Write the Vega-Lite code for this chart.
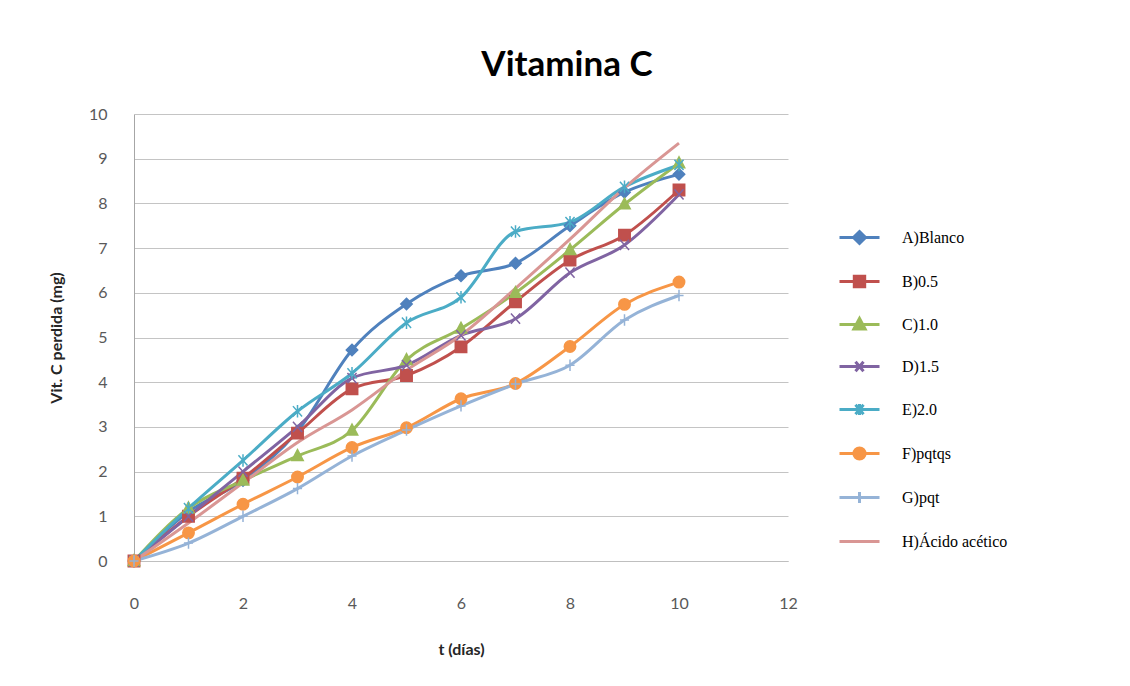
{
  "$schema": "https://vega.github.io/schema/vega-lite/v6.json",
  "width": 654,
  "height": 447,
  "autosize": "none",
  "padding": {"left": 134, "top": 114, "right": 342, "bottom": 125},
  "background": "white",
  "title": {
    "text": "Vitamina C",
    "font": "Lato",
    "fontSize": 35,
    "fontWeight": "bold",
    "color": "#000000",
    "anchor": "middle",
    "frame": "group",
    "dx": 106,
    "offset": 23
  },
  "config": {
    "view": {"stroke": null},
    "axis": {
      "labelFont": "Lato",
      "labelFontSize": 16,
      "labelColor": "#595959",
      "titleFont": "Lato",
      "titleFontSize": 16,
      "titleFontWeight": "bold",
      "titleColor": "#262626",
      "ticks": false,
      "labelFlush": false
    }
  },
  "data": {
    "values": [
      {"t": 0, "v": 0, "s": "A)Blanco"}, {"t": 1, "v": 1.1, "s": "A)Blanco"}, {"t": 2, "v": 1.8, "s": "A)Blanco"}, {"t": 3, "v": 2.9, "s": "A)Blanco"}, {"t": 4, "v": 4.72, "s": "A)Blanco"}, {"t": 5, "v": 5.75, "s": "A)Blanco"}, {"t": 6, "v": 6.38, "s": "A)Blanco"}, {"t": 7, "v": 6.66, "s": "A)Blanco"}, {"t": 8, "v": 7.5, "s": "A)Blanco"}, {"t": 9, "v": 8.25, "s": "A)Blanco"}, {"t": 10, "v": 8.65, "s": "A)Blanco"},
      {"t": 0, "v": 0, "s": "B)0.5"}, {"t": 1, "v": 1.0, "s": "B)0.5"}, {"t": 2, "v": 1.85, "s": "B)0.5"}, {"t": 3, "v": 2.86, "s": "B)0.5"}, {"t": 4, "v": 3.85, "s": "B)0.5"}, {"t": 5, "v": 4.15, "s": "B)0.5"}, {"t": 6, "v": 4.79, "s": "B)0.5"}, {"t": 7, "v": 5.8, "s": "B)0.5"}, {"t": 8, "v": 6.73, "s": "B)0.5"}, {"t": 9, "v": 7.29, "s": "B)0.5"}, {"t": 10, "v": 8.3, "s": "B)0.5"},
      {"t": 0, "v": 0, "s": "C)1.0"}, {"t": 1, "v": 1.18, "s": "C)1.0"}, {"t": 2, "v": 1.8, "s": "C)1.0"}, {"t": 3, "v": 2.35, "s": "C)1.0"}, {"t": 4, "v": 2.92, "s": "C)1.0"}, {"t": 5, "v": 4.5, "s": "C)1.0"}, {"t": 6, "v": 5.2, "s": "C)1.0"}, {"t": 7, "v": 6.0, "s": "C)1.0"}, {"t": 8, "v": 6.96, "s": "C)1.0"}, {"t": 9, "v": 7.98, "s": "C)1.0"}, {"t": 10, "v": 8.9, "s": "C)1.0"},
      {"t": 0, "v": 0, "s": "D)1.5"}, {"t": 1, "v": 1.0, "s": "D)1.5"}, {"t": 2, "v": 2.0, "s": "D)1.5"}, {"t": 3, "v": 3.0, "s": "D)1.5"}, {"t": 4, "v": 4.09, "s": "D)1.5"}, {"t": 5, "v": 4.38, "s": "D)1.5"}, {"t": 6, "v": 5.05, "s": "D)1.5"}, {"t": 7, "v": 5.42, "s": "D)1.5"}, {"t": 8, "v": 6.45, "s": "D)1.5"}, {"t": 9, "v": 7.07, "s": "D)1.5"}, {"t": 10, "v": 8.2, "s": "D)1.5"},
      {"t": 0, "v": 0, "s": "E)2.0"}, {"t": 1, "v": 1.18, "s": "E)2.0"}, {"t": 2, "v": 2.25, "s": "E)2.0"}, {"t": 3, "v": 3.35, "s": "E)2.0"}, {"t": 4, "v": 4.2, "s": "E)2.0"}, {"t": 5, "v": 5.33, "s": "E)2.0"}, {"t": 6, "v": 5.9, "s": "E)2.0"}, {"t": 7, "v": 7.37, "s": "E)2.0"}, {"t": 8, "v": 7.58, "s": "E)2.0"}, {"t": 9, "v": 8.37, "s": "E)2.0"}, {"t": 10, "v": 8.86, "s": "E)2.0"},
      {"t": 0, "v": 0, "s": "F)pqtqs"}, {"t": 1, "v": 0.63, "s": "F)pqtqs"}, {"t": 2, "v": 1.27, "s": "F)pqtqs"}, {"t": 3, "v": 1.88, "s": "F)pqtqs"}, {"t": 4, "v": 2.54, "s": "F)pqtqs"}, {"t": 5, "v": 2.98, "s": "F)pqtqs"}, {"t": 6, "v": 3.63, "s": "F)pqtqs"}, {"t": 7, "v": 3.97, "s": "F)pqtqs"}, {"t": 8, "v": 4.8, "s": "F)pqtqs"}, {"t": 9, "v": 5.74, "s": "F)pqtqs"}, {"t": 10, "v": 6.24, "s": "F)pqtqs"},
      {"t": 0, "v": 0, "s": "G)pqt"}, {"t": 1, "v": 0.4, "s": "G)pqt"}, {"t": 2, "v": 1.0, "s": "G)pqt"}, {"t": 3, "v": 1.62, "s": "G)pqt"}, {"t": 4, "v": 2.35, "s": "G)pqt"}, {"t": 5, "v": 2.93, "s": "G)pqt"}, {"t": 6, "v": 3.47, "s": "G)pqt"}, {"t": 7, "v": 3.96, "s": "G)pqt"}, {"t": 8, "v": 4.38, "s": "G)pqt"}, {"t": 9, "v": 5.39, "s": "G)pqt"}, {"t": 10, "v": 5.94, "s": "G)pqt"},
      {"t": 0, "v": 0, "s": "H)Ácido acético"}, {"t": 1, "v": 0.85, "s": "H)Ácido acético"}, {"t": 2, "v": 1.75, "s": "H)Ácido acético"}, {"t": 3, "v": 2.65, "s": "H)Ácido acético"}, {"t": 4, "v": 3.38, "s": "H)Ácido acético"}, {"t": 5, "v": 4.27, "s": "H)Ácido acético"}, {"t": 6, "v": 5.05, "s": "H)Ácido acético"}, {"t": 7, "v": 6.1, "s": "H)Ácido acético"}, {"t": 8, "v": 7.2, "s": "H)Ácido acético"}, {"t": 9, "v": 8.35, "s": "H)Ácido acético"}, {"t": 10, "v": 9.35, "s": "H)Ácido acético"}
    ]
  },
  "encoding": {
    "x": {
      "field": "t",
      "type": "quantitative",
      "scale": {"domain": [0, 12], "nice": false},
      "axis": {
        "title": "t (días)",
        "values": [0, 2, 4, 6, 8, 10, 12],
        "grid": false,
        "domainColor": "#BFBFBF",
        "labelPadding": 34,
        "titlePadding": 30
      }
    },
    "y": {
      "field": "v",
      "type": "quantitative",
      "scale": {"domain": [0, 10], "nice": false},
      "axis": {
        "title": "Vit. C perdida (mg)",
        "values": [0, 1, 2, 3, 4, 5, 6, 7, 8, 9, 10],
        "grid": true,
        "gridColor": "#C4C4C4",
        "domainColor": "#A6A6A6",
        "labelPadding": 27,
        "titlePadding": 24
      }
    },
    "color": {
      "field": "s",
      "type": "nominal",
      "scale": {
        "domain": ["A)Blanco", "B)0.5", "C)1.0", "D)1.5", "E)2.0", "F)pqtqs", "G)pqt", "H)Ácido acético"],
        "range": ["#4F81BD", "#C0504D", "#9BBB59", "#8064A2", "#4BACC6", "#F79646", "#95B3D7", "#D99694"]
      },
      "legend": {
        "title": null,
        "orient": "none",
        "legendX": 704,
        "legendY": 102,
        "symbolSize": 1600,
        "symbolStrokeWidth": 3,
        "rowPadding": 10,
        "labelFont": "Liberation Serif",
        "labelFontSize": 16,
        "labelColor": "#000000",
        "labelOffset": 21,
        "encode": {
          "symbols": {
            "update": {
              "shape": {"signal": "['M-1,0L1,0M0,-0.3L0.3,0L0,0.3L-0.3,0Z', 'M-1,0L1,0M-0.26,-0.26L0.26,-0.26L0.26,0.26L-0.26,0.26Z', 'M-1,0L1,0M0,-0.3L0.28,0.22L-0.28,0.22Z', 'M-1,0L1,0M-0.2,-0.24L0.2,0.24M-0.2,0.24L0.2,-0.24', 'M-1,0L1,0M-0.2,-0.24L0.2,0.24M-0.2,0.24L0.2,-0.24M0,-0.28L0,0.28', 'M-1,0L1,0M0.28,0A0.28,0.28 0 1,1 -0.28,0A0.28,0.28 0 1,1 0.28,0Z', 'M-1,0L1,0M0,-0.28L0,0.28', 'M-1,0L1,0'][indexof(['A)Blanco', 'B)0.5', 'C)1.0', 'D)1.5', 'E)2.0', 'F)pqtqs', 'G)pqt', 'H)Ácido acético'], datum.value)]"},
              "fill": {"signal": "scale('color', datum.value)"},
              "stroke": {"signal": "scale('color', datum.value)"},
              "strokeWidth": {"value": 3},
              "opacity": {"value": 1}
            }
          }
        }
      }
    }
  },
  "layer": [
    {
      "mark": {"type": "line", "strokeWidth": 3, "interpolate": "monotone"},
      "encoding": {"detail": {"field": "s"}}
    },
    {
      "transform": [{"filter": "datum.s !== 'H)Ácido acético'"}],
      "mark": {"type": "point", "filled": true, "size": 130, "strokeWidth": 1.5, "opacity": 1},
      "encoding": {
        "shape": {
          "field": "s",
          "type": "nominal",
          "scale": {
            "domain": ["A)Blanco", "B)0.5", "C)1.0", "D)1.5", "E)2.0", "F)pqtqs", "G)pqt"],
            "range": ["M0,-1L1,0L0,1L-1,0Z", "M-1,-1L1,-1L1,1L-1,1Z", "M0,-1.1L1,0.8L-1,0.8Z", "M-0.8,-0.9L0.8,0.9M-0.8,0.9L0.8,-0.9", "M-0.8,-0.9L0.8,0.9M-0.8,0.9L0.8,-0.9M0,-1.1L0,1.1", "circle", "M0,-1L0,1M-0.8,0L0.8,0"]
          },
          "legend": null
        },
        "stroke": {
          "field": "s",
          "type": "nominal",
          "scale": {
            "domain": ["A)Blanco", "B)0.5", "C)1.0", "D)1.5", "E)2.0", "F)pqtqs", "G)pqt"],
            "range": ["#4F81BD", "#C0504D", "#9BBB59", "#8064A2", "#4BACC6", "#F79646", "#95B3D7"]
          },
          "legend": null
        }
      }
    }
  ]
}
